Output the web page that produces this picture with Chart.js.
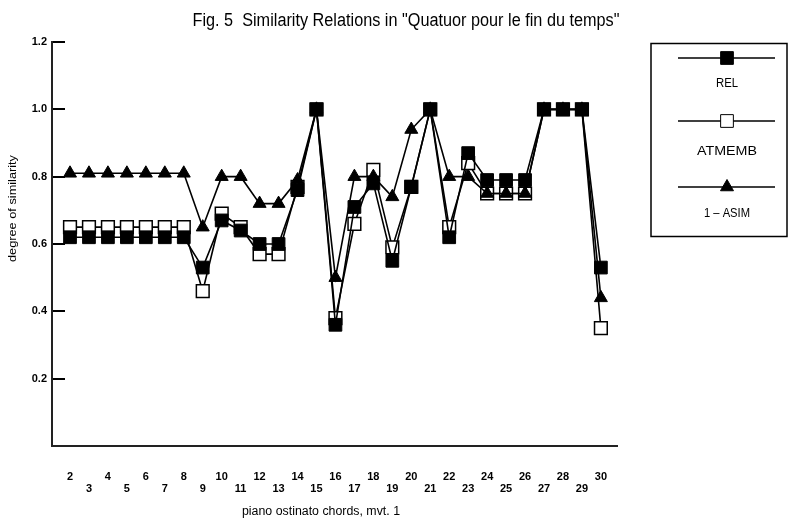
<!DOCTYPE html>
<html>
<head>
<meta charset="utf-8">
<script src="https://cdn.jsdelivr.net/npm/chart.js@4.4.1/dist/chart.umd.min.js"></script>
<style>
  html, body { margin: 0; padding: 0; background: #fff; }
  #wrap { position: relative; width: 788px; height: 521px; }
</style>
</head>
<body>
<div id="wrap"><canvas id="chart"></canvas></div>
<script>
// chord numbers on the x axis
const chords = [2, 3, 4, 5, 6, 7, 8, 9, 10, 11, 12, 13, 14, 15, 16, 17, 18, 19, 20, 21, 22, 23, 24, 25, 26, 27, 28, 29, 30];

// series
const rel    = [0.62, 0.62, 0.62, 0.62, 0.62, 0.62, 0.62, 0.53, 0.67, 0.64, 0.60, 0.60, 0.76, 1.00, 0.36, 0.71, 0.78, 0.55, 0.77, 1.00, 0.62, 0.87, 0.79, 0.79, 0.79, 1.00, 1.00, 1.00, 0.53];
const atmemb = [0.65, 0.65, 0.65, 0.65, 0.65, 0.65, 0.65, 0.46, 0.69, 0.65, 0.57, 0.57, 0.77, 1.00, 0.38, 0.66, 0.82, 0.59, 0.77, 1.00, 0.65, 0.84, 0.75, 0.75, 0.75, 1.00, 1.00, 1.00, 0.35];
const asim   = [0.81, 0.81, 0.81, 0.81, 0.81, 0.81, 0.81, 0.65, 0.80, 0.80, 0.72, 0.72, 0.79, 1.00, 0.50, 0.80, 0.80, 0.74, 0.94, 1.00, 0.80, 0.80, 0.75, 0.75, 0.75, 1.00, 1.00, 1.00, 0.44];

const yTicks = [0.2, 0.4, 0.6, 0.8, 1.0, 1.2];
const seriesNames = ['REL', 'ATMEMB', '1 \u2013 ASIM'];

const titleText = 'Fig. 5  Similarity Relations in "Quatuor pour le fin du temps"';
const xTitle = 'piano ostinato chords, mvt. 1';
const yTitle = 'degree of similarity';

const FONT = '"Liberation Sans", Arial, sans-serif';

// draws text squeezed to a given width (the original uses a narrow font)
function fitText(ctx, text, x, y, width, font) {
    ctx.save();
    ctx.font = font;
    ctx.textAlign = 'center';
    ctx.textBaseline = 'alphabetic';
    const w = ctx.measureText(text).width;
    ctx.translate(x, y);
    ctx.scale(width / w, 1);
    ctx.fillText(text, 0, 0);
    ctx.restore();
}

const decor = {
    id: 'decor',
    afterDraw(chart) {
        const ctx = chart.ctx;
        ctx.save();
        ctx.fillStyle = '#000';
        ctx.strokeStyle = '#000';

        fitText(ctx, titleText, 406, 26, 427, '18px ' + FONT);
        fitText(ctx, xTitle, 321, 515, 158, '12px ' + FONT);

        ctx.save();
        ctx.translate(16, 208.5);
        ctx.rotate(-Math.PI / 2);
        fitText(ctx, yTitle, 0, 0, 107, '11px ' + FONT);
        ctx.restore();

        // legend box
        ctx.lineWidth = 1.5;
        ctx.strokeRect(651, 43.5, 136, 193);

        const rows = [
            { line: 58, base: 87, w: 22 },
            { line: 121, base: 155, w: 60 },
            { line: 187, base: 217, w: 46 }
        ];
        chart.data.datasets.forEach((ds, i) => {
            const r = rows[i];
            ctx.lineWidth = ds.borderWidth;
            ctx.strokeStyle = ds.borderColor;
            ctx.beginPath();
            ctx.moveTo(678, r.line);
            ctx.lineTo(775, r.line);
            ctx.stroke();

            ctx.fillStyle = ds.pointBackgroundColor;
            ctx.strokeStyle = ds.pointBorderColor;
            ctx.lineWidth = 1;
            Chart.helpers.drawPoint(ctx, {
                pointStyle: ds.pointStyle,
                radius: ds.pointRadius,
                rotation: 0,
                borderWidth: 1
            }, 727, r.line);

            ctx.fillStyle = '#000';
            fitText(ctx, seriesNames[i], 727, r.base, r.w, '12px ' + FONT);
        });
        ctx.restore();
    }
};

const toPoints = arr => arr.map((v, i) => ({ x: chords[i], y: v }));

new Chart(document.getElementById('chart'), {
    type: 'line',
    data: {
        datasets: [
            {
                label: seriesNames[0],
                data: toPoints(rel),
                borderColor: '#000',
                borderWidth: 1.6,
                pointStyle: 'rect',
                pointRadius: 9,
                pointBackgroundColor: '#000',
                pointBorderColor: '#000',
                pointBorderWidth: 1,
                order: 2
            },
            {
                label: seriesNames[1],
                data: toPoints(atmemb),
                borderColor: '#000',
                borderWidth: 1.6,
                pointStyle: 'rect',
                pointRadius: 9,
                pointBackgroundColor: '#fff',
                pointBorderColor: '#000',
                pointBorderWidth: 1.5,
                order: 3
            },
            {
                label: seriesNames[2],
                data: toPoints(asim),
                borderColor: '#000',
                borderWidth: 1.6,
                pointStyle: 'triangle',
                pointRadius: 7.5,
                pointBackgroundColor: '#000',
                pointBorderColor: '#000',
                pointBorderWidth: 1,
                order: 1
            }
        ]
    },
    options: {
        responsive: true,
        maintainAspectRatio: false,
        animation: false,
        layout: { padding: { top: 42, right: 171, left: 0, bottom: 0 } },
        plugins: {
            legend: { display: false },
            title: { display: false },
            tooltip: { enabled: false }
        },
        scales: {
            x: {
                type: 'linear',
                min: 1.05,
                max: 30.85,
                afterBuildTicks: s => { s.ticks = chords.map(v => ({ value: v })); },
                afterFit: s => { s.height = 75; },
                grid: { display: false },
                border: { display: true, color: '#222', width: 2 },
                ticks: {
                    autoSkip: false,
                    maxRotation: 0,
                    padding: 17,
                    color: '#000',
                    font: { family: FONT, size: 11, weight: 'bold', lineHeight: 1.1 },
                    callback: v => (v % 2 === 0 ? [String(v), ''] : ['', String(v)])
                }
            },
            y: {
                min: 0,
                max: 1.2,
                afterBuildTicks: s => { s.ticks = yTicks.map(v => ({ value: v })); },
                afterFit: s => { s.width = 52; },
                grid: { drawOnChartArea: false, drawTicks: true, tickLength: -13, color: '#000', lineWidth: 2 },
                border: { display: true, color: '#222', width: 2 },
                ticks: {
                    padding: 18,
                    color: '#000',
                    font: { family: FONT, size: 11, weight: 'bold' },
                    callback: v => v.toFixed(1)
                }
            }
        }
    },
    plugins: [decor]
});
</script>
</body>
</html>
